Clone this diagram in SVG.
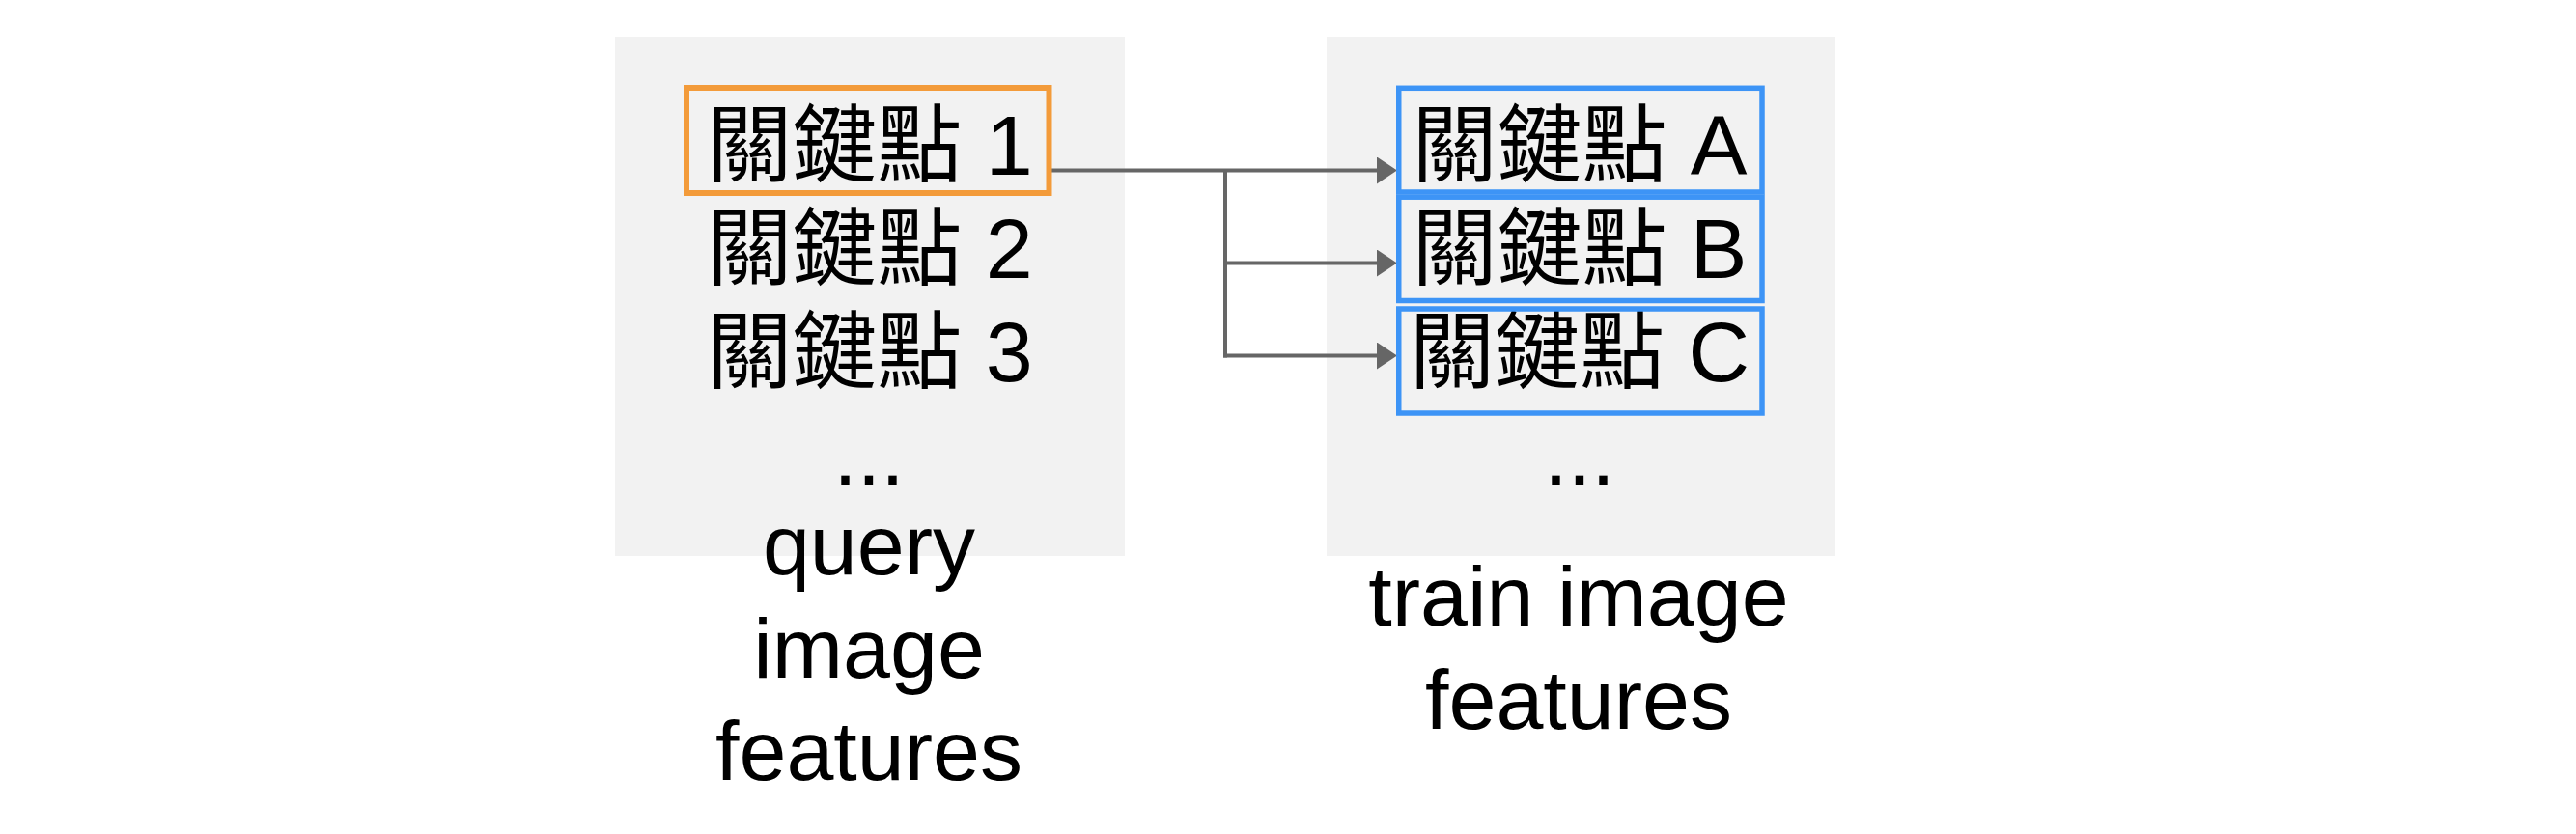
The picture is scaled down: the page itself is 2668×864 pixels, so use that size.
<svg xmlns="http://www.w3.org/2000/svg" width="2668" height="864" viewBox="0 0 2668 864">
  <style>
    .panel { fill: #f2f2f2; stroke: none; }
    .t { font-family: "Liberation Sans", "Noto Sans CJK TC", "Noto Sans CJK SC", sans-serif; font-size: 88px; fill: #000000; text-anchor: middle; }
    .sel { fill: none; stroke: #f39b3a; stroke-width: 6; }
    .match { fill: none; stroke: #3d94f6; stroke-width: 5.5; }
    .conn { fill: none; stroke: #666666; stroke-width: 4; }
  </style>
  <defs>
    <marker id="arrow" markerUnits="userSpaceOnUse" markerWidth="22" markerHeight="28" viewBox="0 0 21 28" refX="14" refY="14" orient="auto">
      <path d="M0,0 L21,14 L0,28 Z" fill="#666666"/>
    </marker>
  </defs>
  <rect width="2668" height="864" fill="#ffffff"/>

  <g id="query-panel">
    <rect class="panel" x="637" y="38" width="528" height="538"/>
    <text class="t" x="901" y="181">關鍵點 1</text>
    <text class="t" x="901" y="288">關鍵點 2</text>
    <text class="t" x="901" y="395">關鍵點 3</text>
    <text class="t" x="900" y="502">...</text>
  </g>

  <g id="train-panel">
    <rect class="panel" x="1374" y="38" width="527" height="538"/>
    <text class="t" x="1636" y="181">關鍵點 A</text>
    <text class="t" x="1636" y="288">關鍵點 B</text>
    <text class="t" x="1636" y="395">關鍵點 C</text>
    <text class="t" x="1636" y="502">...</text>
  </g>

  <g id="query-label">
    <text class="t" x="900" y="595">query</text>
    <text class="t" x="900" y="702">image</text>
    <text class="t" x="900" y="808">features</text>
  </g>

  <g id="train-label">
    <text class="t" x="1635" y="648">train image</text>
    <text class="t" x="1635" y="755">features</text>
  </g>

  <g id="connectors">
    <path class="conn" d="M1088,176.5 H1440" marker-end="url(#arrow)"/>
    <path class="conn" d="M1269,176.5 V370.5"/>
    <path class="conn" d="M1267,272.5 H1440" marker-end="url(#arrow)"/>
    <path class="conn" d="M1267,368.5 H1440" marker-end="url(#arrow)"/>
  </g>

  <g id="keypoint-1">
    <rect class="sel" x="711" y="91" width="375.5" height="109"/>
  </g>
  <g id="keypoint-A">
    <rect class="match" x="1448.75" y="91.3" width="376.25" height="107.7"/>
  </g>
  <g id="keypoint-B">
    <rect class="match" x="1448.75" y="204.2" width="376.25" height="107.3"/>
  </g>
  <g id="keypoint-C">
    <rect class="match" x="1448.75" y="320" width="376.25" height="108"/>
  </g>
</svg>
